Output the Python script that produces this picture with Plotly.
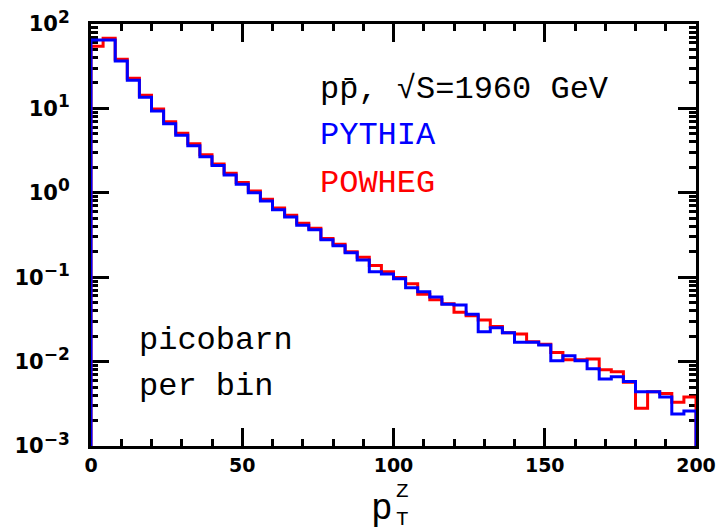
import plotly.graph_objects as go

# bin edges (GeV), width 4
bin_edges = list(range(0, 201, 4))

pythia = [64.6, 64.6, 36.5, 21.5, 13.6, 9.31, 6.59, 4.80, 3.61, 2.68,
          2.10, 1.63, 1.26, 1.00, 0.80, 0.631, 0.517, 0.412, 0.366, 0.278,
          0.236, 0.195, 0.160, 0.116, 0.109, 0.096, 0.0751, 0.0673, 0.0582, 0.0478,
          0.0469, 0.0363, 0.0226, 0.0252, 0.022, 0.0169, 0.0169, 0.0157, 0.0102, 0.0117,
          0.0102, 0.0082, 0.0062, 0.0066, 0.0058, 0.0044, 0.0044, 0.0038, 0.0024, 0.0026]

powheg = [54.4, 67.6, 38.2, 22.7, 14.3, 9.84, 6.96, 5.07, 3.82, 2.83,
          2.19, 1.70, 1.32, 1.05, 0.837, 0.661, 0.541, 0.435, 0.38, 0.288,
          0.245, 0.200, 0.172, 0.138, 0.116, 0.0995, 0.0837, 0.0627, 0.0542, 0.0486,
          0.0384, 0.035, 0.0311, 0.026, 0.022, 0.0212, 0.0172, 0.0161, 0.0128, 0.0105,
          0.0105, 0.0107, 0.008, 0.0076, 0.0057, 0.0028, 0.0044, 0.0042, 0.0033, 0.0038]

y_exponents = [-3, -2, -1, 0, 1, 2]
x_ticks = [0, 50, 100, 150, 200]
y_floor = 1e-3


def step_xy(edges, vals):
    xs = [edges[0]] + list(edges[:-1]) + [edges[-1], edges[-1]]
    ys = [y_floor] + list(vals) + [vals[-1], y_floor]
    return xs, ys


fig = go.Figure()
for vals, col, name in [(powheg, "#ff0000", "POWHEG"), (pythia, "#0000ff", "PYTHIA")]:
    xs, ys = step_xy(bin_edges, vals)
    fig.add_trace(go.Scatter(x=xs, y=ys, mode="lines", line=dict(color=col, width=3, shape="hv"),
                             name=name, showlegend=False))

xtickfont = dict(family="DejaVu Sans", size=19, color="black")
ytickfont = dict(family="DejaVu Sans", size=21, color="black")


def ylab(e):
    s = str(e).replace('-', '−')
    return f"<b>10<sup><span style='font-size:17px'>{s}</span></sup></b>"


fig.update_xaxes(range=[0, 200], showgrid=False, zeroline=False, showline=True, linecolor="black",
                 linewidth=3, mirror="allticks", ticks="inside", ticklen=18, tickwidth=2.5,
                 tickcolor="black", tickvals=x_ticks, ticktext=[f"<b>{v}</b>" for v in x_ticks],
                 tickfont=xtickfont, layer="below traces", automargin=False,
                 minor=dict(ticks="inside", ticklen=7, tickwidth=2.5, tickcolor="black", dtick=10,
                            showgrid=False))
fig.update_yaxes(type="log", range=[-3, 2], showgrid=False, zeroline=False, showline=True,
                 linecolor="black", linewidth=3, mirror="allticks", ticks="inside", ticklen=18,
                 tickwidth=2.5, tickcolor="black", automargin=False,
                 tickvals=[10 ** e for e in y_exponents],
                 ticktext=[ylab(e) for e in y_exponents],
                 tickfont=ytickfont, layer="below traces", ticklabelstandoff=14,
                 minor=dict(ticks="inside", ticklen=7, tickwidth=2.5, tickcolor="black", dtick="D1",
                            showgrid=False))

mono = "Liberation Mono"
ann = [
    dict(text="pp\u0304, \u221aS=1960 GeV", x=0.376, y=0.845, color="black"),
    dict(text="PYTHIA", x=0.376, y=0.735, color="#0000ff"),
    dict(text="POWHEG", x=0.376, y=0.623, color="#ff0000"),
    dict(text="picobarn", x=0.076, y=0.25, color="black"),
    dict(text="per bin", x=0.076, y=0.14, color="black"),
]
for a in ann:
    fig.add_annotation(text=a["text"], xref="paper", yref="paper", x=a["x"], y=a["y"],
                       xanchor="left", yanchor="middle", showarrow=False,
                       font=dict(family=mono, size=32, color=a["color"]))

# axis title p_T^Z
fig.add_annotation(text="p", xref="paper", yref="paper", x=0.503, y=-0.15, xanchor="right",
                   yanchor="middle", showarrow=False, font=dict(family=mono, size=36, color="black"))
fig.add_annotation(text="Z", xref="paper", yref="paper", x=0.5, y=-0.108, xanchor="left",
                   yanchor="middle", showarrow=False, font=dict(family=mono, size=21, color="black"))
fig.add_annotation(text="T", xref="paper", yref="paper", x=0.5, y=-0.175, xanchor="left",
                   yanchor="middle", showarrow=False, font=dict(family=mono, size=21, color="black"))

fig.update_layout(width=719, height=530, margin=dict(l=91, r=23, t=24, b=84),
                  plot_bgcolor="white", paper_bgcolor="white")

fig.write_html("out.html")
